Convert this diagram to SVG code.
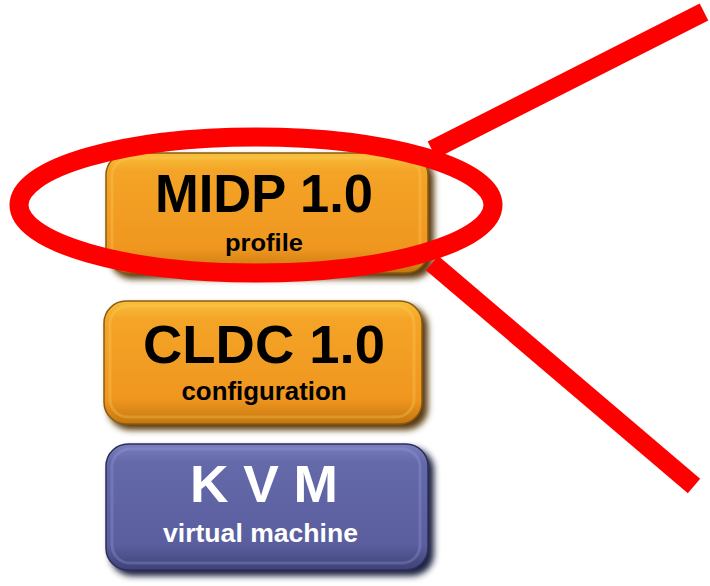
<svg xmlns="http://www.w3.org/2000/svg" width="710" height="586" viewBox="0 0 710 586">
<defs>
<linearGradient id="gOrange" x1="0" y1="0" x2="0" y2="1">
<stop offset="0" stop-color="#f8c03a"/>
<stop offset="0.15" stop-color="#f4a427"/>
<stop offset="0.8" stop-color="#ef961f"/>
<stop offset="1" stop-color="#c4770f"/>
</linearGradient>
<linearGradient id="gBlue" x1="0" y1="0" x2="0" y2="1">
<stop offset="0" stop-color="#7a7ec0"/>
<stop offset="0.15" stop-color="#6469aa"/>
<stop offset="0.8" stop-color="#5a5e9e"/>
<stop offset="1" stop-color="#3e4278"/>
</linearGradient>
<filter id="blur" x="-10%" y="-10%" width="120%" height="130%">
<feGaussianBlur stdDeviation="3"/>
</filter>
</defs>
<style>
.shadowO { fill: #5a3a08; filter: url(#blur); }
.shadowB { fill: #1e2040; filter: url(#blur); }
.boxO { fill: url(#gOrange); stroke: #8a5a10; stroke-width: 1.5; }
.boxB { fill: url(#gBlue); stroke: #2c2f58; stroke-width: 1.5; }
.hl { fill: none; stroke: #fbd060; stroke-opacity: 0.3; stroke-width: 3; }
.hlB { fill: none; stroke: #9a9ed8; stroke-opacity: 0.3; stroke-width: 3; }
.big { font-family: "Liberation Sans", Arial, sans-serif; font-weight: bold; text-anchor: middle; }
.small { font-family: "Liberation Sans", Arial, sans-serif; font-weight: bold; text-anchor: middle; }
.dark { fill: #000000; }
.light { fill: #ffffff; }
.red { fill: none; stroke: #ff0000; stroke-width: 19; }
</style>
<rect width="710" height="586" fill="#ffffff"/>

<g id="midp">
<rect class="shadowO" x="110" y="157" width="324" height="122" rx="22"/>
<rect class="boxO" x="106" y="153" width="322" height="120" rx="22"/>
<rect class="hl" x="112" y="158" width="308" height="108" rx="18"/>
<text class="big dark" x="264" y="212" font-size="54" textLength="218" lengthAdjust="spacingAndGlyphs">MIDP 1.0</text>
<text class="small dark" x="264" y="251" font-size="23.5" textLength="78" lengthAdjust="spacingAndGlyphs">profile</text>
</g>

<g id="cldc">
<rect class="shadowO" x="108" y="305" width="320" height="125" rx="22"/>
<rect class="boxO" x="104" y="301" width="318" height="123" rx="22"/>
<rect class="hl" x="110" y="306" width="304" height="111" rx="18"/>
<text class="big dark" x="264" y="363" font-size="53" textLength="242" lengthAdjust="spacingAndGlyphs">CLDC 1.0</text>
<text class="small dark" x="264" y="400" font-size="25" textLength="165" lengthAdjust="spacingAndGlyphs">configuration</text>
</g>

<g id="kvm">
<rect class="shadowB" x="110" y="448" width="324" height="128" rx="22"/>
<rect class="boxB" x="106" y="444" width="322" height="126" rx="22"/>
<rect class="hlB" x="112" y="449" width="308" height="114" rx="18"/>
<text class="big light" x="264" y="502" font-size="51" textLength="148" lengthAdjust="spacingAndGlyphs">K V M</text>
<text class="small light" x="260.5" y="542" font-size="26" textLength="195" lengthAdjust="spacingAndGlyphs">virtual machine</text>
</g>

<g id="highlight">
<ellipse class="red" cx="256" cy="205" rx="237" ry="68"/>
</g>

<g id="connectors">
<line class="red" x1="432" y1="150" x2="704" y2="12"/>
<line class="red" x1="432" y1="263" x2="694" y2="486"/>
</g>
</svg>
